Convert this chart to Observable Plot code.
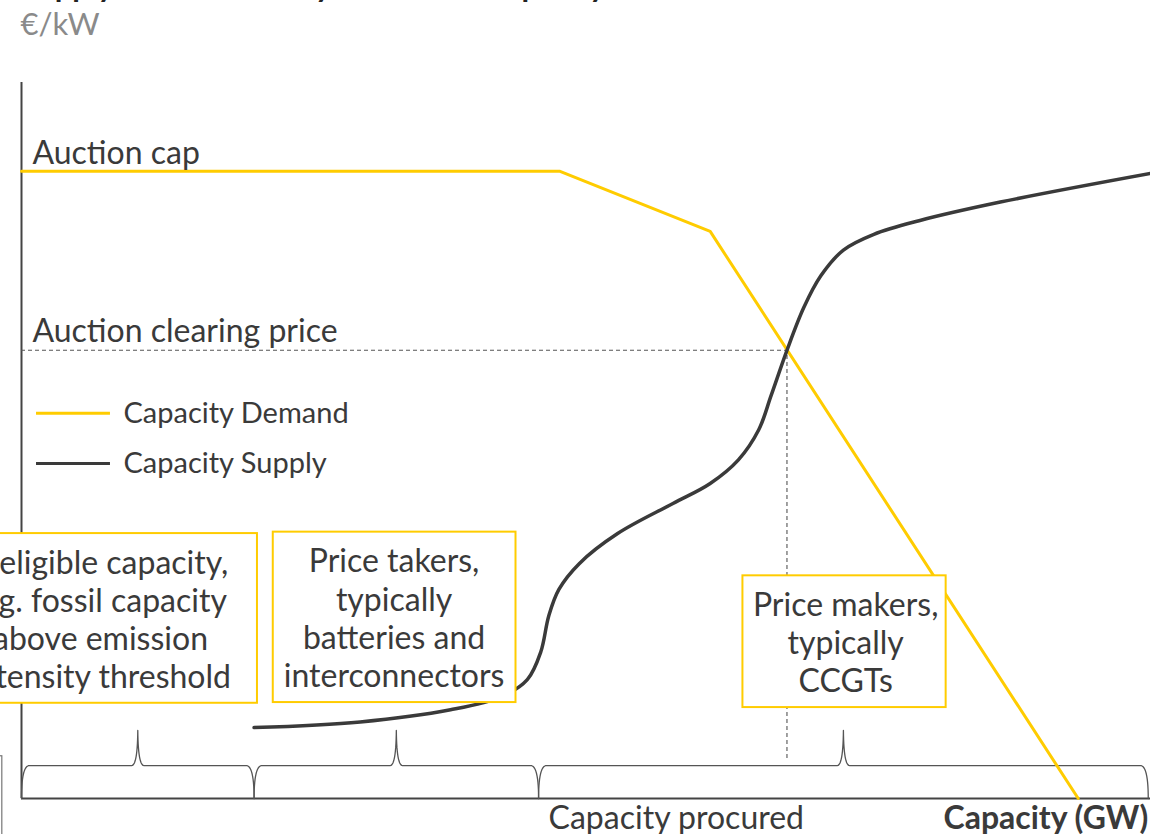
<!DOCTYPE html>
<html>
<head>
<meta charset="utf-8">
<script src="https://cdn.jsdelivr.net/npm/d3@7"></script>
<script src="https://cdn.jsdelivr.net/npm/@observablehq/plot@0.6"></script>
<style>
  html, body { margin: 0; padding: 0; background: #fff; }
  #chart { position: relative; width: 1150px; height: 834px; overflow: hidden; }
  #chart svg { display: block; font-family: Lato, "Open Sans", sans-serif; overflow: hidden; }
</style>
</head>
<body>
<div id="chart"></div>
<script>
// ---------- data (abstract units: capacity 0–100, price 0–100) ----------
const titleText = "Supply and demand dynamics in a capacity market";
const unitLabel = "€/kW";

// capacity demand curve (piecewise linear)
const demandX = [0, 47.7, 61.0, 93.6];
const demandY = [87.6, 87.6, 79.2, 0];

// capacity supply curve (smooth)
const supplyX = [20.6, 30.0, 38.0, 42.5, 44.8, 46.0, 46.7, 47.6, 49.4, 52.8, 57.7, 61.0, 63.5, 65.3, 66.4, 67.8, 69.3, 70.8, 72.8, 75.5, 79.5, 86.7, 100];
const supplyY = [9.9, 10.7, 12.4, 14.2, 16.6, 20.5, 25.5, 29.2, 32.8, 37.0, 41.2, 44.0, 47.3, 51.5, 56.3, 62.6, 68.6, 73.0, 76.6, 78.8, 80.7, 83.3, 87.3];

// clearing point
const clearingX = 67.8;
const clearingY = 62.6;

// capacity groups under the braces
const groupStart = [0, 20.6, 45.8];
const groupEnd = [20.6, 45.8, 99.8];

// annotation boxes
const boxLabels = [
  "Ineligible capacity,\ne.g. fossil capacity\nabove emission\nintensity threshold",
  "Price takers,\ntypically\nbatteries and\ninterconnectors",
  "Price makers,\ntypically\nCCGTs"
];
const boxX1 = [-6.0, 22.3, 63.9];
const boxX2 = [20.9, 43.8, 81.9];
const boxY1 = [13.3, 13.4, 12.7];
const boxY2 = [37.0, 37.2, 31.1];
const boxTextX = [7.0, 33.0, 73.0];

// legend
const legendNames = ["Capacity Demand", "Capacity Supply"];
const legendColors = ["#FFCC00", "#3a3a3a"];
const legendY = [53.8, 46.8];

// ---------- helpers ----------
function quad(p0, p1, p2, n = 14) {
  const out = [];
  for (let i = 0; i <= n; i++) {
    const t = i / n, u = 1 - t;
    out.push([u*u*p0[0] + 2*u*t*p1[0] + t*t*p2[0], u*u*p0[1] + 2*u*t*p1[1] + t*t*p2[1]]);
  }
  return out;
}
function brace(a, b, id) {
  const m = (a + b) / 2, ex = 0.7, cx = 0.55, yb = 4.6, yp = 9.5;
  const pts = [
    ...quad([a, 0], [a, yb], [a + ex, yb]),
    [m - cx, yb],
    ...quad([m - cx, yb], [m - 0.03, yb], [m, yp]),
    ...quad([m, yp], [m + 0.03, yb], [m + cx, yb]),
    [b - ex, yb],
    ...quad([b - ex, yb], [b, yb], [b, 0])
  ];
  return pts.map(([x, y]) => ({x, y, id}));
}

const demand = demandX.map((x, i) => ({x, y: demandY[i]}));
const supply = supplyX.map((x, i) => ({x, y: supplyY[i]}));
const braces = groupStart.flatMap((a, i) => brace(a, groupEnd[i], i));
const boxes = boxLabels.map((label, i) => ({label, x1: boxX1[i], x2: boxX2[i], y1: boxY1[i], y2: boxY2[i], tx: boxTextX[i], ty: (boxY1[i] + boxY2[i]) / 2}));
const legend = legendNames.map((name, i) => ({name, color: legendColors[i], y: legendY[i]}));

const textColor = "#3a3a3a";

const chart = Plot.plot({
  width: 1150,
  height: 834,
  marginLeft: 21,
  marginRight: 0,
  marginTop: 82,
  marginBottom: 36,
  x: {domain: [0, 100], axis: null},
  y: {domain: [0, 100], axis: null},
  style: {fontFamily: "Lato, 'Open Sans', sans-serif", background: "#fff", overflow: "hidden"},
  marks: [
    // title (mostly above the visible area)
    Plot.text([titleText], {x: -0.09, y: 111.9, text: d => d, textAnchor: "start", lineAnchor: "bottom", fontSize: 31, fontWeight: "bold", fill: "#222"}),
    Plot.text([unitLabel], {x: -0.09, y: 108.0, text: d => d, textAnchor: "start", lineAnchor: "middle", fontSize: 31, fill: "#8a8a8a"}),
    // partial box at far left bottom
    Plot.rect([0], {x1: -20, x2: -1.7, y1: -10, y2: 5.9, fill: "none", stroke: "#777", strokeWidth: 1.2}),
    // axes
    Plot.ruleX([0], {y1: 0, y2: 100, stroke: "#444", strokeWidth: 2}),
    Plot.ruleY([0], {x1: 0, x2: 100, stroke: "#444", strokeWidth: 2}),
    // dashed clearing guides
    Plot.ruleY([clearingY], {x1: 0, x2: clearingX, stroke: "#555", strokeWidth: 1.1, strokeDasharray: "4,3"}),
    Plot.ruleX([clearingX], {y1: 5.6, y2: clearingY, stroke: "#555", strokeWidth: 1.1, strokeDasharray: "4,3"}),
    // braces
    Plot.line(braces, {x: "x", y: "y", z: "id", stroke: "#555", strokeWidth: 1.3, curve: "linear"}),
    // curves
    Plot.line(demand, {x: "x", y: "y", stroke: "#FFCC00", strokeWidth: 3, curve: "linear"}),
    Plot.line(supply, {x: "x", y: "y", stroke: "#3a3a3a", strokeWidth: 3.5, curve: "catmull-rom"}),
    // labels
    Plot.text(["Auction cap"], {x: 0.97, y: 88.6, text: d => d, textAnchor: "start", lineAnchor: "bottom", fontSize: 32, fill: textColor}),
    Plot.text(["Auction clearing price"], {x: 0.97, y: 63.8, text: d => d, textAnchor: "start", lineAnchor: "bottom", fontSize: 32, fill: textColor}),
    // legend
    Plot.ruleY(legend, {y: "y", x1: 1.33, x2: 7.88, stroke: "color", strokeWidth: 3}),
    Plot.text(legend, {x: 9.03, y: "y", text: "name", textAnchor: "start", lineAnchor: "middle", fontSize: 29, fill: textColor}),
    // boxes
    Plot.rect(boxes, {x1: "x1", x2: "x2", y1: "y1", y2: "y2", fill: "#fff", stroke: "#FFCC00", strokeWidth: 2}),
    Plot.text(boxes, {x: "tx", y: "ty", text: "label", textAnchor: "middle", lineAnchor: "middle", lineHeight: 1.19, fontSize: 32, fill: textColor}),
    // x-axis labels
    Plot.text(["Capacity procured"], {x: 58.0, y: -2.8, text: d => d, textAnchor: "middle", lineAnchor: "middle", fontSize: 32, fill: textColor}),
    Plot.text(["Capacity (GW)"], {x: 99.8, y: -2.8, text: d => d, textAnchor: "end", lineAnchor: "middle", fontSize: 32, fontWeight: "bold", fill: textColor})
  ]
});
document.getElementById("chart").appendChild(chart);
</script>
</body>
</html>
